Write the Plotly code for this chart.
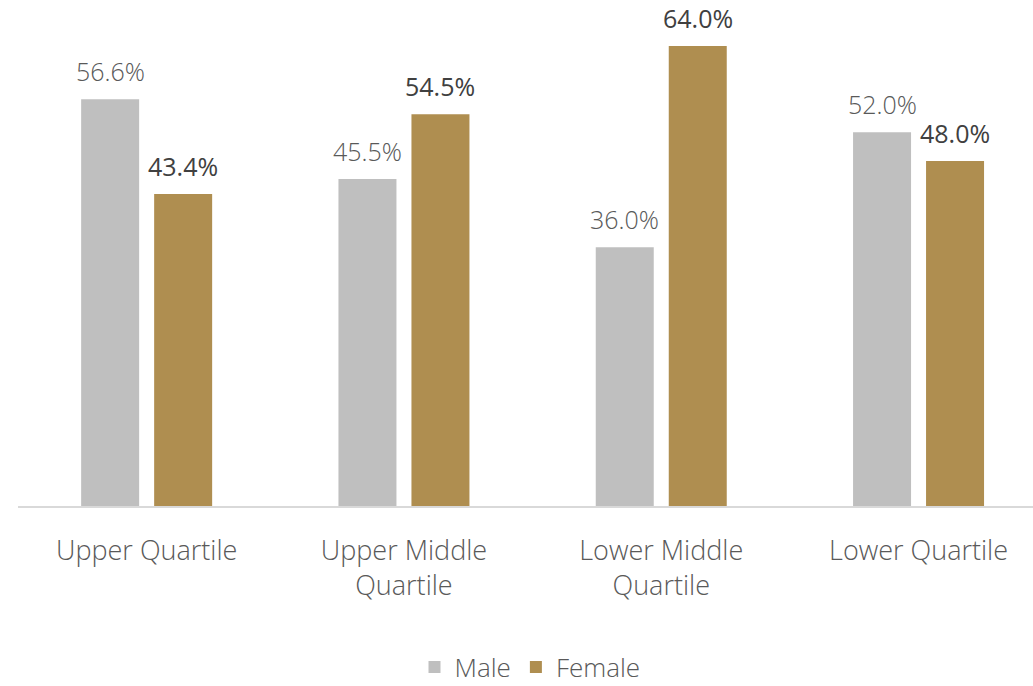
import plotly.graph_objects as go

categories = ["Upper Quartile", "Upper Middle<br>Quartile", "Lower Middle<br>Quartile", "Lower Quartile"]
male = [56.6, 45.5, 36.0, 52.0]
female = [43.4, 54.5, 64.0, 48.0]
series_names = ["Male", "Female"]
colors = ["#BFBFBF", "#AF8E50"]
label_colors = ["#595959", "#404040"]
label_weights = [300, 400]

W, H = 1033, 686
cat_px = 257.3
bargap = 0.4326
bargroupgap = 0.2055

fig = go.Figure()
for name, vals, col in zip(series_names, [male, female], colors):
    fig.add_trace(go.Bar(name=name, x=categories, y=vals, marker=dict(color=col, line=dict(width=0)),
                         hoverinfo="skip"))

fig.update_layout(barmode="group", bargap=bargap, bargroupgap=bargroupgap)

# data labels as annotations
slot = (1 - bargap) * cat_px / 2
annotations = []
for i, (vals, lc, lw) in enumerate(zip([male, female], label_colors, label_weights)):
    shift = (i - 0.5) * slot
    for c, v in zip(categories, vals):
        annotations.append(dict(x=c, y=v, text=f"{v:.1f}%", showarrow=False, xref="x", yref="y",
                                yanchor="bottom", xanchor="center", xshift=shift, yshift=9,
                                font=dict(family="Open Sans", size=25, color=lc, weight=lw)))

fig.update_layout(
    width=W, height=H,
    margin=dict(l=18, r=0, t=0, b=180),
    paper_bgcolor="white", plot_bgcolor="white",
    annotations=annotations,
    showlegend=True,
    legend=dict(orientation="h", xref="container", yref="container", x=530 / W, y=1 - 667 / H,
                xanchor="center", yanchor="middle",
                font=dict(family="Open Sans", size=26, color="#595959", weight=300),
                itemsizing="constant", traceorder="normal"),
    xaxis=dict(range=[-0.5, -0.5 + 1015 / cat_px], showline=True, linecolor="#D9D9D9", linewidth=1.5,
               showgrid=False, zeroline=False, ticks="", ticklabelstandoff=20,
               tickfont=dict(family="Open Sans", size=27, color="#595959", weight=300)),
    yaxis=dict(range=[0, 506 / 7.1875], visible=False, showgrid=False, zeroline=False),
)

fig.write_html("out.html")
